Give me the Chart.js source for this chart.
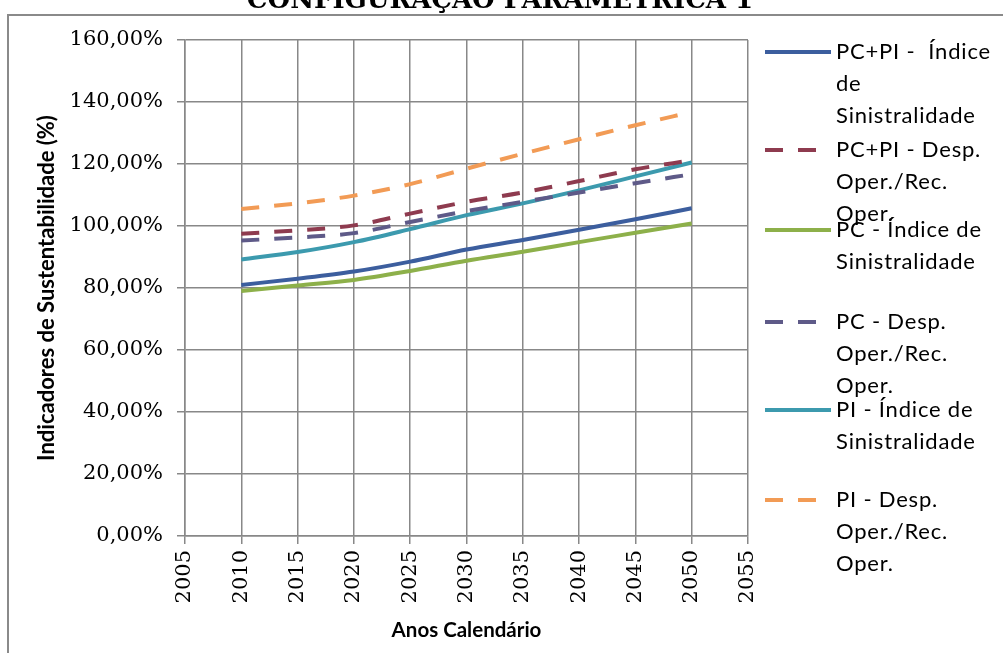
<!DOCTYPE html>
<html>
<head>
<meta charset="utf-8">
<script src="https://cdn.jsdelivr.net/npm/chart.js@4.4.1/dist/chart.umd.min.js"></script>
<style>
  html, body { margin:0; padding:0; background:#fff; }
  #wrap { position:relative; width:1003px; height:653px; overflow:hidden; }
</style>
</head>
<body>
<div id="wrap"><canvas id="chart" width="1003" height="653"></canvas></div>
<script>
// values (percent)
const years       = [2010, 2015, 2020, 2025, 2030, 2035, 2040, 2045, 2050];
const pcpiIndice  = [81.0, 83.0, 85.3, 88.5, 92.4, 95.5, 98.8, 102.2, 105.7];
const pcpiDesp    = [97.5, 98.6, 100.2, 104.0, 107.8, 110.8, 114.5, 118.3, 121.2];
const pcIndice    = [79.0, 80.8, 82.6, 85.5, 88.8, 91.7, 94.8, 97.8, 100.8];
const pcDesp      = [95.3, 96.3, 97.7, 101.3, 104.8, 107.8, 110.8, 113.8, 116.7];
const piIndice    = [89.2, 91.6, 94.8, 99.0, 103.5, 107.3, 111.5, 116.0, 120.5];
const piDesp      = [105.5, 107.3, 109.8, 113.5, 118.5, 123.3, 128.0, 132.5, 136.8];

const seriesNames = [
  ['PC+PI -  Índice', 'de', 'Sinistralidade'],
  ['PC+PI - Desp.', 'Oper./Rec.', 'Oper.'],
  ['PC - Índice de', 'Sinistralidade'],
  ['PC - Desp.', 'Oper./Rec.', 'Oper.'],
  ['PI - Índice de', 'Sinistralidade'],
  ['PI - Desp.', 'Oper./Rec.', 'Oper.']
];
const chartTitle = 'CONFIGURAÇÃO PARAMÉTRICA 1';
const xTitle = 'Anos Calendário';
const yTitle = 'Indicadores de Sustentabilidade (%)';

const colors = ['#3c5e9e', '#8e3b4f', '#8db04a', '#5e5a88', '#3c9aae', '#f29b55'];
const dashed = [false, true, false, true, false, true];
const DASH = [18, 15];

const allSeries = [pcpiIndice, pcpiDesp, pcIndice, pcDesp, piIndice, piDesp];

const datasets = allSeries.map((vals, i) => ({
  label: seriesNames[i].join(' '),
  data: years.map((y, k) => ({ x: y, y: vals[k] })),
  borderColor: colors[i],
  backgroundColor: colors[i],
  borderWidth: 4,
  borderDash: dashed[i] ? DASH : [],
  pointRadius: 0,
  cubicInterpolationMode: 'monotone',
  fill: false
}));

// frame, cut title and the wrapped legend
const decor = {
  id: 'decor',
  beforeDraw(chart) {
    const ctx = chart.ctx;
    ctx.save();
    ctx.strokeStyle = '#8a8a8a';
    ctx.lineWidth = 2;
    ctx.beginPath();
    ctx.moveTo(1010, 15); ctx.lineTo(8, 15); ctx.lineTo(8, 660);
    ctx.stroke();
    ctx.fillStyle = '#000';
    ctx.font = 'bold 26px "DejaVu Serif"';
    ctx.textAlign = 'center';
    ctx.textBaseline = 'alphabetic';
    ctx.fillText(chartTitle, 500, 8);
    ctx.restore();
  },
  afterDraw(chart) {
    const ctx = chart.ctx;
    const tops = [52, 150, 230, 322, 410, 500];
    ctx.save();
    ctx.font = '22px Lato';
    ctx.letterSpacing = '0.8px';
    ctx.textBaseline = 'middle';
    ctx.fillStyle = '#000';
    chart.data.datasets.forEach((ds, i) => {
      const y = tops[i];
      ctx.strokeStyle = ds.borderColor;
      ctx.lineWidth = 4;
      ctx.setLineDash(ds.borderDash);
      ctx.beginPath();
      ctx.moveTo(765, y); ctx.lineTo(831, y);
      ctx.stroke();
      ctx.setLineDash([]);
      seriesNames[i].forEach((t, j) => ctx.fillText(t, 836, y + j * 32));
    });
    ctx.restore();
  }
};

new Chart(document.getElementById('chart'), {
  type: 'line',
  data: { datasets },
  options: {
    responsive: false,
    animation: false,
    layout: { padding: { top: 40, right: 255, left: 0, bottom: 0 } },
    plugins: { legend: { display: false }, tooltip: { enabled: false } },
    scales: {
      x: {
        type: 'linear', min: 2005, max: 2055,
        afterFit: s => { s.height = 117; },
        ticks: {
          stepSize: 5, minRotation: 90, maxRotation: 90, padding: 6,
          color: '#000', font: { family: 'DejaVu Serif', size: 21 },
          callback: v => String(v)
        },
        grid: { color: '#888', lineWidth: 1.5, tickLength: 8 },
        border: { color: '#888', width: 1.5 },
        title: { display: true, text: xTitle, color: '#000', padding: { bottom: 10 },
                 font: { family: 'Lato', size: 20.5, weight: 'bold' } }
      },
      y: {
        min: 0, max: 160,
        afterFit: s => { s.width = 185; },
        ticks: {
          stepSize: 20, padding: 14, color: '#000',
          font: { family: 'DejaVu Serif', size: 21 },
          callback: v => v.toFixed(2).replace('.', ',') + '%'
        },
        grid: { color: '#888', lineWidth: 1.5, tickLength: 8 },
        border: { color: '#888', width: 1.5 },
        title: { display: true, text: yTitle, color: '#000', padding: { top: 34 },
                 font: { family: 'Lato', size: 22, weight: 'bold' } }
      }
    }
  },
  plugins: [decor]
});
</script>
</body>
</html>
